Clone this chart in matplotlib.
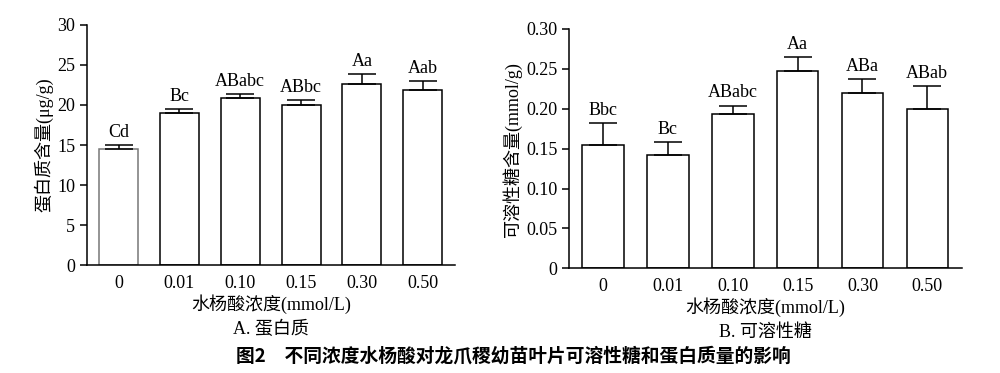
import matplotlib
matplotlib.use("Agg")
import matplotlib.pyplot as plt
import numpy as np

plt.rcParams['font.family'] = ['Liberation Serif', 'Noto Sans CJK SC']
plt.rcParams['font.size'] = 13
plt.rcParams['axes.linewidth'] = 1.1

conc = ['0', '0.01', '0.10', '0.15', '0.30', '0.50']

protein = [14.45, 18.95, 20.85, 20.05, 22.65, 21.85]
protein_err = [0.5, 0.5, 0.5, 0.55, 1.25, 1.15]
protein_sig = ['Cd', 'Bc', 'ABabc', 'ABbc', 'Aa', 'Aab']

sugar = [0.155, 0.142, 0.193, 0.247, 0.220, 0.200]
sugar_err = [0.027, 0.016, 0.011, 0.018, 0.017, 0.028]
sugar_sig = ['Bbc', 'Bc', 'ABabc', 'Aa', 'ABa', 'ABab']

fig = plt.figure(figsize=(10, 3.73), dpi=100)
ax1 = fig.add_axes([0.087, 0.2895, 0.368, 0.6435])
ax2 = fig.add_axes([0.5693, 0.2807, 0.3924, 0.6416])


def draw(ax, vals, errs, sig, ylim, yticks, ylabel, sub, first_edge):
    x = np.arange(len(vals))
    edges = [first_edge] + ['black'] * (len(vals) - 1)
    ax.bar(x, vals, width=0.64, color='white', edgecolor=edges, linewidth=1.1)
    ax.errorbar(x, vals, yerr=[np.zeros(len(vals)), errs], fmt='none',
                ecolor='black', elinewidth=1.1, capsize=10, capthick=1.1)
    for xi, v, e, s in zip(x, vals, errs, sig):
        ax.annotate(s, (xi, v + e), xytext=(0, 3), textcoords='offset points',
                    ha='center', va='bottom')
    ax.set_xlim(-0.52, 5.53)
    ax.set_ylim(*ylim)
    ax.set_yticks(yticks)
    ax.set_xticks(x)
    ax.set_xticklabels(conc)
    ax.tick_params(axis='x', length=0, pad=7)
    ax.tick_params(axis='y', length=5, width=1.1, direction='out')
    ax.spines['right'].set_visible(False)
    ax.spines['top'].set_visible(False)
    ax.set_ylabel(ylabel, labelpad=3)
    ax.set_xlabel('水杨酸浓度(mmol/L)', labelpad=2)
    ax.text(0.5, -0.27, sub, transform=ax.transAxes, ha='center', va='center')


draw(ax1, protein, protein_err, protein_sig, (0, 30), np.arange(0, 31, 5),
     '蛋白质含量(μg/g)', 'A. 蛋白质', '#777777')
draw(ax2, sugar, sugar_err, sugar_sig, (0, 0.30), np.arange(0, 0.31, 0.05),
     '可溶性糖含量(mmol/g)', 'B. 可溶性糖', 'black')
ax2.set_yticklabels(['0', '0.05', '0.10', '0.15', '0.20', '0.25', '0.30'])

fig.text(0.513, 1 - 356 / 373, '图2　不同浓度水杨酸对龙爪稷幼苗叶片可溶性糖和蛋白质量的影响',
         ha='center', va='center', fontsize=13.5, fontweight='bold',
         family=['Noto Sans CJK SC'])

plt.savefig('out.png', dpi=100)
